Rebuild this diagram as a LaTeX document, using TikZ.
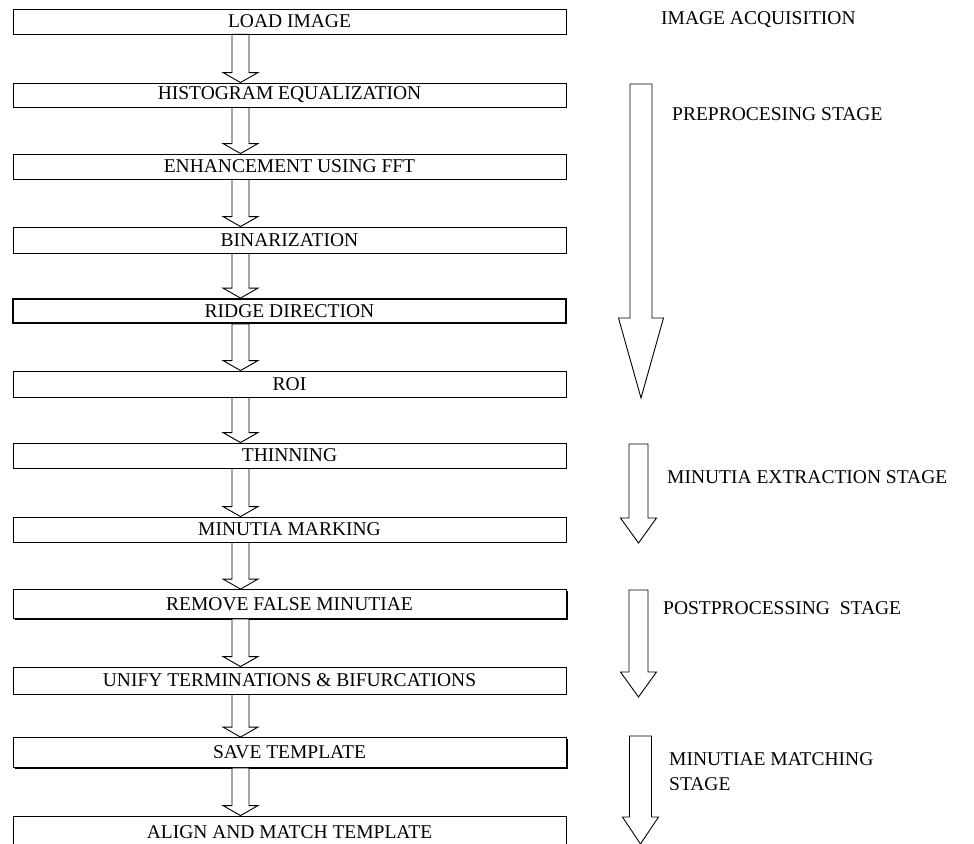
\documentclass[tikz,border=0pt]{standalone}
\usepackage{fontspec}
\setmainfont{Liberation Serif}
\usetikzlibrary{calc,positioning,shadows}
\tikzset{
stagebox/.style={
  rectangle,
  draw=black,
  fill=white,
  line width=0.9pt,
  inner sep=0pt,
  minimum width=553pt,
  font=\fontsize{19.5}{23}\selectfont
  },
heavybox/.style={stagebox, line width=1.8pt},
shadowbox/.style={stagebox,
  drop shadow={shadow xshift=1.6pt,shadow yshift=-1.6pt,opacity=1,fill=black}},
stagelabel/.style={
  anchor=west,
  inner sep=0pt,
  align=left,
  font=\fontsize{19.5}{25}\selectfont
  },
flowline/.style={draw=black, fill=white, line width=0.9pt, line join=miter}
}
% block arrow: start, tip, half shaft, half head, head length
\newcommand{\blockarrow}[5]{%
  \draw[flowline] let \p1=(#1), \p2=(#2) in
    (\x1-#3pt,\y1) -- (\x1+#3pt,\y1) -- (\x1+#3pt,\y2+#5pt) --
    (\x1+#4pt,\y2+#5pt) -- (\x1,\y2) -- (\x1-#4pt,\y2+#5pt) --
    (\x1-#3pt,\y2+#5pt) -- cycle;}
\newcommand{\flowarrow}[2]{\blockarrow{#1.south -| ax}{#2.north -| ax}{8.5}{17.5}{10}}

\begin{document}
\begin{tikzpicture}[x=1pt,y=-1pt]
\useasboundingbox (0,0) rectangle (974,843);

% processing steps
\node[stagebox,minimum height=25pt] (load) at (289.5,21.5) {LOAD IMAGE};
\node[stagebox,minimum height=24pt] (hist) at (289.5,95) {HISTOGRAM EQUALIZATION};
\node[stagebox,minimum height=25pt] (enh) at (289.5,166.5) {ENHANCEMENT USING FFT};
\node[stagebox,minimum height=26pt] (bin) at (289.5,240) {BINARIZATION};
\node[heavybox,minimum height=24pt] (ridge) at (289.5,311) {RIDGE DIRECTION};
\node[stagebox,minimum height=26pt] (roi) at (289.5,384) {ROI};
\node[stagebox,minimum height=25pt] (thin) at (289.5,455.5) {THINNING};
\node[stagebox,minimum height=25pt] (mark) at (289.5,529.5) {MINUTIA MARKING};
\node[shadowbox,minimum height=29pt] (remove) at (289.5,604) {REMOVE FALSE MINUTIAE};
\node[stagebox,minimum height=27pt] (unify) at (289.5,680.5) {UNIFY TERMINATIONS \& BIFURCATIONS};
\node[shadowbox,minimum height=30pt] (save) at (289.5,752.5) {SAVE TEMPLATE};
\node[stagebox,minimum height=32pt] (align) at (289.5,832) {ALIGN AND MATCH TEMPLATE};

\coordinate (ax) at (240.5,0);
\foreach \a/\b in {load/hist,hist/enh,enh/bin,bin/ridge,ridge/roi,roi/thin,%
                   thin/mark,mark/remove,remove/unify,unify/save,save/align}
  \flowarrow{\a}{\b};

% stages
\coordinate (pretop) at (641,84);
\coordinate (pretip) at (641,398);
\coordinate (exttop) at (638.5,444);
\coordinate (exttip) at (638.5,543);
\coordinate (posttop) at (638.5,590);
\coordinate (posttip) at (638.5,697);
\coordinate (mattop) at (640.5,736);
\coordinate (mattip) at (640.5,844);

\blockarrow{pretop}{pretip}{11}{22.5}{80}
\blockarrow{exttop}{exttip}{9.5}{18}{25}
\blockarrow{posttop}{posttip}{9.5}{18}{25}
\blockarrow{mattop}{mattip}{11}{18}{27}

\node[stagelabel] (acq) at (661,20) {IMAGE ACQUISITION};
\node[stagelabel] (pre) at (672,114) {PREPROCESING STAGE};
\node[stagelabel] (ext) at (667,477) {MINUTIA EXTRACTION STAGE};
\node[stagelabel] (post) at (663,608) {POSTPROCESSING\ \ STAGE};
\node[stagelabel] (mat) at (669,772) {MINUTIAE MATCHING\\STAGE};

\end{tikzpicture}
\end{document}
